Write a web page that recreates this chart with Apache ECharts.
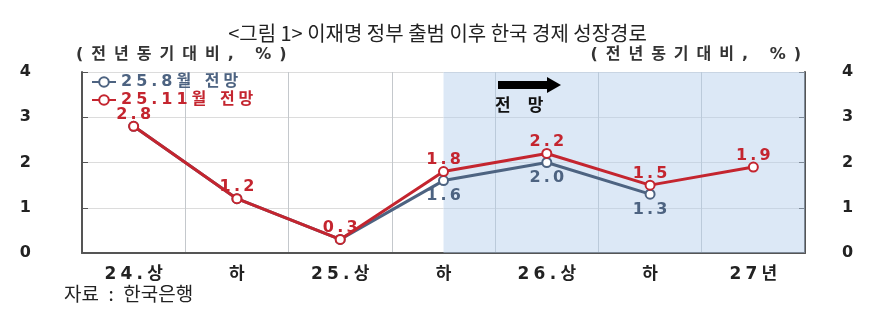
<!DOCTYPE html>
<html><head><meta charset="utf-8">
<script src="https://cdn.jsdelivr.net/npm/echarts@6/dist/echarts.min.js"></script>
<style>html,body{margin:0;padding:0;background:#fff}#c{width:875px;height:328px}</style>
</head><body><div id="c"></div>
<script>
const categories = ['24.상', '하', '25.상', '하', '26.상', '하', '27년'];
const augForecast = [2.8, 1.2, 0.3, 1.6, 2.0, 1.3, null];
const novForecast = [2.8, 1.2, 0.3, 1.8, 2.2, 1.5, 1.9];
const yTicks = [0, 1, 2, 3, 4];
const seriesNames = ['25.8월 전망', '25.11월 전망'];
const forecastStartIndex = 3;

const BLUE = '#4d6381';
const RED = '#c4252f';
const FONT = '"DejaVu Sans", "Noto Sans CJK KR", sans-serif';
const spaced = (s, gap) => String(s).split('').join(gap);
const sp4 = s => spaced(s, '\u2005');
const spT = s => spaced(s, '\u2009');
const sp2 = s => spaced(s, '\u2002');

const chart = echarts.init(document.getElementById('c'));
chart.setOption({
  animation: false,
  backgroundColor: '#fff',
  title: {
    text: '<그림 1> 이재명 정부 출범 이후 한국 경제 성장경로',
    left: 'center', top: 18,
    textStyle: { fontFamily: '"Noto Sans CJK KR"', fontWeight: 'normal', fontSize: 20, color: '#222' }
  },
  grid: { left: 82, right: 70, top: 72, bottom: 75 },
  legend: {
    orient: 'vertical', left: 86, top: 69, itemGap: 2, itemWidth: 24, itemHeight: 12,
    data: [
      { name: seriesNames[0], textStyle: { color: BLUE } },
      { name: seriesNames[1], textStyle: { color: RED } }
    ],
    formatter: n => sp4(n),
    textStyle: { fontFamily: FONT, fontWeight: 'bold', fontSize: 16 }
  },
  xAxis: [{
    type: 'category', data: categories,
    axisLine: { lineStyle: { color: '#555', width: 2 } },
    axisTick: { show: false },
    splitLine: { show: true, lineStyle: { color: '#c4c8cc', width: 1 } },
    axisLabel: { margin: 13, formatter: v => sp4(v), fontFamily: FONT, fontWeight: 'bold', fontSize: 17, color: '#222' }
  }, {
    type: 'value', min: -0.5, max: categories.length - 0.5, show: false
  }],
  yAxis: [{
    type: 'value', min: yTicks[0], max: yTicks[yTicks.length - 1], interval: 1,
    axisLine: { show: true, onZero: false, lineStyle: { color: '#555', width: 2 } },
    axisTick: { show: true, inside: true, length: 6, lineStyle: { color: '#555' } },
    splitLine: { lineStyle: { color: '#dcdcdc' } },
    axisLabel: { margin: 51, fontFamily: FONT, fontWeight: 'bold', fontSize: 16, color: '#222' }
  }, {
    type: 'value', min: yTicks[0], max: yTicks[yTicks.length - 1], interval: 1, position: 'right',
    axisLine: { show: true, onZero: false, lineStyle: { color: '#555', width: 2 } },
    axisTick: { show: true, inside: true, length: 6, lineStyle: { color: '#555' } },
    splitLine: { show: false },
    axisLabel: { margin: 37, fontFamily: FONT, fontWeight: 'bold', fontSize: 16, color: '#222' }
  }],
  series: [{
    type: 'line', xAxisIndex: 1, yAxisIndex: 0, data: [], silent: true, z: 1,
    markArea: {
      silent: true,
      itemStyle: { color: 'rgba(178,204,234,0.45)' },
      data: [[{ xAxis: forecastStartIndex }, { xAxis: categories.length - 0.5 }]]
    }
  }, {
    name: seriesNames[0], type: 'line', z: 3,
    data: augForecast.map((v, i) => ({ value: v, label: { show: i >= forecastStartIndex } })),
    color: BLUE,
    lineStyle: { color: BLUE, width: 3 },
    symbol: 'emptyCircle', symbolSize: 9,
    itemStyle: { color: BLUE, borderColor: BLUE, borderWidth: 2 },
    label: {
      position: 'bottom', distance: 2,
      formatter: p => spT(p.value.toFixed(1)),
      fontFamily: FONT, fontWeight: 'bold', fontSize: 16, color: BLUE
    }
  }, {
    name: seriesNames[1], type: 'line', z: 4,
    data: novForecast,
    color: RED,
    lineStyle: { color: RED, width: 3 },
    symbol: 'emptyCircle', symbolSize: 9,
    itemStyle: { color: RED, borderColor: RED, borderWidth: 2 },
    label: {
      show: true, position: 'top', distance: 0, offset: [0, 2],
      formatter: p => spT(p.value.toFixed(1)),
      fontFamily: FONT, fontWeight: 'bold', fontSize: 16, color: RED
    }
  }],
  graphic: [
    { type: 'text', z: 100, left: 76, top: 47, style: { text: sp2('(전년동기대비, %)'), font: 'bold 16px ' + FONT, fill: '#333' } },
    { type: 'text', z: 100, right: 74, top: 47, style: { text: sp2('(전년동기대비, %)'), font: 'bold 16px ' + FONT, fill: '#333' } },
    { type: 'polygon', z: 100, shape: { points: [[498, 81], [547, 81], [547, 77], [561, 85], [547, 93], [547, 89], [498, 89]] }, style: { fill: '#000' } },
    { type: 'text', z: 100, left: 495, top: 96, style: { text: spaced('전망', '\u2003'), font: 'bold 17px "Noto Sans CJK KR"', fill: '#111' } },
    { type: 'text', z: 100, left: 64, top: 284, style: { text: '자료\u2002:\u2002한국은행', font: '19px "Noto Sans CJK KR"', fill: '#222' } }
  ]
});
</script></body></html>
